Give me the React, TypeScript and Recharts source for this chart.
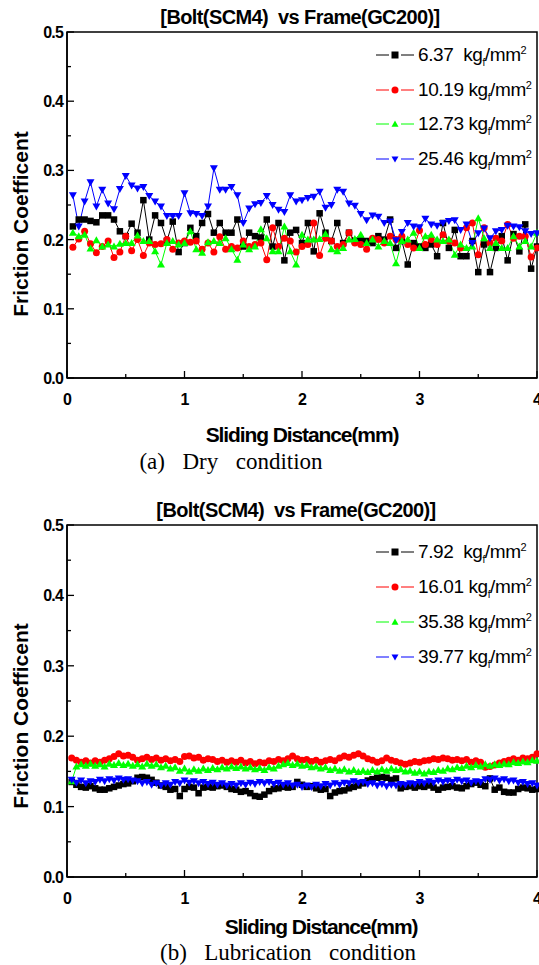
import React from 'react';
import { LineChart, Line, XAxis, YAxis, Legend, ReferenceArea } from 'recharts';

// sliding distance (mm) for each sample
const dryDistance = [
  0.05, 0.1, 0.15, 0.2, 0.25, 0.3, 0.35, 0.4, 0.45, 0.5, 0.55, 0.6, 0.65, 0.7, 0.75, 0.8, 0.85, 0.9, 0.95, 1.0,
  1.05, 1.1, 1.15, 1.2, 1.25, 1.3, 1.35, 1.4, 1.45, 1.5, 1.55, 1.6, 1.65, 1.7, 1.75, 1.8, 1.85, 1.9, 1.95, 2.0,
  2.05, 2.1, 2.15, 2.2, 2.25, 2.3, 2.35, 2.4, 2.45, 2.5, 2.55, 2.6, 2.65, 2.7, 2.75, 2.8, 2.85, 2.9, 2.95, 3.0,
  3.05, 3.1, 3.15, 3.2, 3.25, 3.3, 3.35, 3.4, 3.45, 3.5, 3.55, 3.6, 3.65, 3.7, 3.75, 3.8, 3.85, 3.9, 3.95, 4.0,
];

const dry637 = [
  0.219, 0.229, 0.229, 0.227, 0.225, 0.235, 0.235, 0.229, 0.212, 0.205,
  0.223, 0.21, 0.257, 0.2, 0.235, 0.224, 0.198, 0.226, 0.182, 0.195,
  0.217, 0.205, 0.224, 0.237, 0.21, 0.224, 0.21, 0.21, 0.229, 0.19,
  0.21, 0.205, 0.203, 0.229, 0.19, 0.224, 0.17, 0.21, 0.214, 0.195,
  0.224, 0.183, 0.238, 0.21, 0.198, 0.224, 0.195, 0.21, 0.198, 0.2,
  0.198, 0.195, 0.205, 0.2, 0.229, 0.188, 0.198, 0.164, 0.195, 0.19,
  0.188, 0.193, 0.176, 0.224, 0.188, 0.214, 0.176, 0.176, 0.198, 0.153,
  0.193, 0.153, 0.188, 0.205, 0.17, 0.208, 0.183, 0.222, 0.158, 0.19,
];

const dry1019 = [
  0.189, 0.201, 0.212, 0.194, 0.181, 0.19, 0.198, 0.174, 0.182, 0.205,
  0.184, 0.2, 0.177, 0.195, 0.193, 0.194, 0.2, 0.186, 0.195, 0.198,
  0.196, 0.198, 0.186, 0.195, 0.182, 0.204, 0.186, 0.19, 0.188, 0.198,
  0.19, 0.193, 0.195, 0.171, 0.217, 0.19, 0.202, 0.198, 0.182, 0.19,
  0.193, 0.224, 0.177, 0.202, 0.198, 0.19, 0.193, 0.21, 0.195, 0.193,
  0.186, 0.202, 0.2, 0.195, 0.205, 0.2, 0.205, 0.193, 0.188, 0.213,
  0.193, 0.2, 0.193, 0.207, 0.198, 0.195, 0.188, 0.217, 0.224, 0.178,
  0.217, 0.195, 0.202, 0.198, 0.222, 0.202, 0.205, 0.205, 0.175, 0.188,
];

const dry1273 = [
  0.21, 0.205, 0.207, 0.187, 0.199, 0.19, 0.193, 0.19, 0.194, 0.195,
  0.195, 0.206, 0.198, 0.198, 0.183, 0.164, 0.195, 0.198, 0.193, 0.195,
  0.212, 0.186, 0.181, 0.196, 0.198, 0.195, 0.202, 0.186, 0.171, 0.193,
  0.186, 0.19, 0.215, 0.202, 0.183, 0.183, 0.219, 0.183, 0.164, 0.207,
  0.2, 0.2, 0.201, 0.208, 0.186, 0.183, 0.188, 0.2, 0.201, 0.207,
  0.195, 0.2, 0.19, 0.198, 0.195, 0.166, 0.198, 0.2, 0.21, 0.188,
  0.205, 0.207, 0.2, 0.198, 0.2, 0.178, 0.193, 0.188, 0.19, 0.231,
  0.202, 0.188, 0.195, 0.188, 0.188, 0.205, 0.19, 0.198, 0.19, 0.21,
];

const dry2546 = [
  0.264, 0.219, 0.255, 0.283, 0.248, 0.272, 0.252, 0.244, 0.273, 0.292,
  0.278, 0.274, 0.276, 0.263, 0.255, 0.248, 0.234, 0.234, 0.234, 0.267,
  0.238, 0.237, 0.234, 0.248, 0.303, 0.272, 0.272, 0.276, 0.264, 0.224,
  0.245, 0.251, 0.253, 0.263, 0.25, 0.243, 0.24, 0.264, 0.255, 0.257,
  0.26, 0.262, 0.269, 0.246, 0.25, 0.272, 0.269, 0.252, 0.249, 0.237,
  0.228, 0.235, 0.233, 0.224, 0.226, 0.199, 0.211, 0.224, 0.219, 0.218,
  0.23, 0.222, 0.22, 0.224, 0.227, 0.228, 0.214, 0.222, 0.195, 0.209,
  0.216, 0.202, 0.212, 0.214, 0.22, 0.219, 0.218, 0.212, 0.208, 0.209,
];

const lubDistance = [
  0.04, 0.08, 0.12, 0.16, 0.2, 0.24, 0.28, 0.32, 0.36, 0.4, 0.44, 0.48, 0.52, 0.56, 0.6, 0.64, 0.68, 0.72, 0.76, 0.8,
  0.84, 0.88, 0.92, 0.96, 1.0, 1.04, 1.08, 1.12, 1.16, 1.2, 1.24, 1.28, 1.32, 1.36, 1.4, 1.44, 1.48, 1.52, 1.56, 1.6,
  1.64, 1.68, 1.72, 1.76, 1.8, 1.84, 1.88, 1.92, 1.96, 2.0, 2.04, 2.08, 2.12, 2.16, 2.2, 2.24, 2.28, 2.32, 2.36, 2.4,
  2.44, 2.48, 2.52, 2.56, 2.6, 2.64, 2.68, 2.72, 2.76, 2.8, 2.84, 2.88, 2.92, 2.96, 3.0, 3.04, 3.08, 3.12, 3.16, 3.2,
  3.24, 3.28, 3.32, 3.36, 3.4, 3.44, 3.48, 3.52, 3.56, 3.6, 3.64, 3.68, 3.72, 3.76, 3.8, 3.84, 3.88, 3.92, 3.96, 4.0,
];

const lub792 = [
  0.135, 0.131, 0.128, 0.127, 0.129, 0.126, 0.124, 0.124, 0.126, 0.128,
  0.13, 0.132, 0.133, 0.136, 0.141, 0.142, 0.141, 0.138, 0.134, 0.13,
  0.128, 0.124, 0.125, 0.115, 0.125, 0.128, 0.127, 0.119, 0.127, 0.128,
  0.127, 0.129, 0.13, 0.128, 0.125, 0.124, 0.121, 0.122, 0.119, 0.115,
  0.114, 0.117, 0.122, 0.125, 0.126, 0.128, 0.127, 0.128, 0.135, 0.131,
  0.128, 0.129, 0.126, 0.124, 0.125, 0.115, 0.12, 0.122, 0.123, 0.126,
  0.128, 0.13, 0.133, 0.137, 0.139, 0.141, 0.142, 0.141, 0.138, 0.14,
  0.126, 0.128, 0.129, 0.127, 0.129, 0.128, 0.13, 0.127, 0.124, 0.127,
  0.128, 0.129, 0.127, 0.126, 0.129, 0.132, 0.134, 0.131, 0.129, 0.14,
  0.124, 0.127, 0.121, 0.12, 0.12, 0.125, 0.127, 0.126, 0.124, 0.125,
];

const lub1601 = [
  0.169, 0.166, 0.163, 0.165, 0.162, 0.165, 0.163, 0.166, 0.168, 0.171,
  0.175, 0.172, 0.173, 0.17, 0.166, 0.168, 0.17, 0.167, 0.169, 0.166,
  0.168, 0.165, 0.167, 0.164, 0.171, 0.172, 0.169, 0.17, 0.166, 0.168,
  0.167, 0.164, 0.166, 0.163, 0.165, 0.163, 0.166, 0.162, 0.164, 0.161,
  0.163, 0.162, 0.165, 0.164, 0.167, 0.165, 0.168, 0.172, 0.168, 0.166,
  0.167, 0.164, 0.166, 0.163, 0.165, 0.167, 0.165, 0.169, 0.172, 0.17,
  0.173, 0.175, 0.172, 0.168, 0.166, 0.163, 0.165, 0.169, 0.166, 0.164,
  0.162, 0.16, 0.162, 0.164, 0.163, 0.165, 0.166, 0.168, 0.167, 0.169,
  0.168, 0.166, 0.167, 0.165, 0.167, 0.163, 0.165, 0.163, 0.156, 0.157,
  0.159, 0.162, 0.164, 0.166, 0.168, 0.166, 0.169, 0.168, 0.17, 0.175,
];

const lub3538 = [
  0.136, 0.157, 0.16, 0.158, 0.161, 0.158, 0.16, 0.157, 0.161, 0.159,
  0.162, 0.159, 0.161, 0.158, 0.16, 0.157, 0.161, 0.158, 0.16, 0.156,
  0.158, 0.154, 0.156, 0.151, 0.154, 0.15, 0.153, 0.151, 0.154, 0.152,
  0.155, 0.153, 0.156, 0.154, 0.157, 0.155, 0.157, 0.154, 0.156, 0.153,
  0.155, 0.152, 0.156, 0.154, 0.158, 0.16, 0.162, 0.159, 0.161, 0.158,
  0.159, 0.156, 0.157, 0.154, 0.156, 0.152, 0.154, 0.151, 0.153, 0.15,
  0.152, 0.149, 0.151, 0.149, 0.152, 0.15, 0.153, 0.151, 0.154, 0.152,
  0.153, 0.15, 0.151, 0.148, 0.15, 0.147, 0.15, 0.149, 0.152, 0.151,
  0.154, 0.153, 0.156, 0.155, 0.158, 0.156, 0.159, 0.157, 0.16, 0.158,
  0.16, 0.159, 0.161, 0.16, 0.163, 0.162, 0.164, 0.163, 0.166, 0.165,
];

const lub3977 = [
  0.138, 0.134, 0.137, 0.133, 0.136, 0.135, 0.138, 0.136, 0.139, 0.137,
  0.14, 0.138, 0.139, 0.137, 0.136, 0.133, 0.135, 0.131, 0.133, 0.13,
  0.133, 0.131, 0.135, 0.133, 0.137, 0.134, 0.136, 0.133, 0.135, 0.132,
  0.134, 0.131, 0.133, 0.13, 0.132, 0.13, 0.133, 0.131, 0.134, 0.132,
  0.135, 0.133, 0.135, 0.132, 0.134, 0.131, 0.133, 0.13, 0.131, 0.128,
  0.13, 0.128, 0.131, 0.129, 0.132, 0.13, 0.133, 0.131, 0.134, 0.133,
  0.136, 0.134, 0.135, 0.132, 0.133, 0.13, 0.132, 0.129, 0.131, 0.13,
  0.132, 0.131, 0.133, 0.132, 0.135, 0.133, 0.136, 0.134, 0.137, 0.135,
  0.137, 0.135, 0.138, 0.136, 0.137, 0.134, 0.136, 0.135, 0.139, 0.138,
  0.14, 0.137, 0.139, 0.136, 0.137, 0.134, 0.135, 0.132, 0.133, 0.13,
];

const dryLoads = ['6.37', '10.19', '12.73', '25.46'];
const lubLoads = ['7.92', '16.01', '35.38', '39.77'];

const xTicks = [0, 0.5, 1, 1.5, 2, 2.5, 3, 3.5, 4];
const yTicks = [0, 0.05, 0.1, 0.15, 0.2, 0.25, 0.3, 0.35, 0.4, 0.45, 0.5];

const COLORS = ['#000000', '#ff0000', '#00ff00', '#0000ff'];
const SHAPES = ['square', 'circle', 'triangle', 'triangleDown'];
const DOT_SIZES = [6.5, 7, 8, 8];

const SANS = '"Liberation Sans", Arial, sans-serif';
const SERIF = '"Liberation Serif", "Times New Roman", serif';

const Marker = ({ shape, cx, cy, color, size }: any) => {
  const h = size / 2;
  if (shape === 'square') return <rect x={cx - h} y={cy - h} width={size} height={size} fill={color} />;
  if (shape === 'circle') return <circle cx={cx} cy={cy} r={h} fill={color} />;
  if (shape === 'triangle')
    return <polygon points={`${cx},${cy - h} ${cx + h},${cy + h * 0.75} ${cx - h},${cy + h * 0.75}`} fill={color} />;
  return <polygon points={`${cx},${cy + h} ${cx + h},${cy - h * 0.75} ${cx - h},${cy - h * 0.75}`} fill={color} />;
};

const makeDot = (i: number) => (p: any) => (
  <Marker key={`d-${i}-${p.index}`} shape={SHAPES[i]} cx={p.cx} cy={p.cy} color={COLORS[i]} size={DOT_SIZES[i]} />
);

const tickFont: React.CSSProperties = { fontFamily: SANS, fontWeight: 'bold', fontSize: 16, letterSpacing: -0.8 };

// inward ticks, label only on the major ones
const XTick = (props: any) => {
  const { x, y, payload } = props;
  const v = payload.value;
  const major = Number.isInteger(v);
  return (
    <g>
      <line x1={x} x2={x} y1={y} y2={y - (major ? 7 : 4)} stroke="#000" strokeWidth={1.3} />
      {major && (
        <text x={x} y={y + 27} textAnchor="middle" style={tickFont}>
          {v}
        </text>
      )}
    </g>
  );
};

const YTick = (props: any) => {
  const { x, y, payload } = props;
  const v = payload.value;
  const major = Math.round(v * 100) % 10 === 0;
  return (
    <g>
      <line x1={x} x2={x + (major ? 7 : 4)} y1={y} y2={y} stroke="#000" strokeWidth={1.3} />
      {major && (
        <text x={x - 4} y={y + 6} textAnchor="end" style={tickFont}>
          {v.toFixed(1)}
        </text>
      )}
    </g>
  );
};

const makeLegend = (loads: string[], rowH: number) => () => (
  <div>
    {loads.map((load, i) => (
      <div key={load} style={{ display: 'flex', alignItems: 'center', height: rowH }}>
        <svg width={40} height={14}>
          <line x1={0} x2={13} y1={7} y2={7} stroke={COLORS[i]} strokeWidth={1} />
          <line x1={25} x2={38} y1={7} y2={7} stroke={COLORS[i]} strokeWidth={1} />
          <Marker shape={SHAPES[i]} cx={19} cy={7} color={COLORS[i]} size={7} />
        </svg>
        <span style={{ marginLeft: 2, fontFamily: SANS, fontSize: 19, letterSpacing: -0.4, whiteSpace: 'pre', color: '#000' }}>
          {load}
          {load.length < 5 ? '  ' : ' '}kg
          <sub style={{ fontSize: 10, lineHeight: 0 }}>f</sub>/mm
          <sup style={{ fontSize: 11, lineHeight: 0 }}>2</sup>
        </span>
      </div>
    ))}
  </div>
);

const Text = ({ x, y, rotate, style, children }: any) => (
  <div
    style={{
      position: 'absolute',
      left: x,
      top: y,
      transform: `translate(-50%, -50%)${rotate ? ' rotate(-90deg)' : ''}`,
      whiteSpace: 'pre',
      lineHeight: 1,
      color: '#000',
      ...style,
    }}
  >
    {children}
  </div>
);

const titleStyle = { fontFamily: SANS, fontWeight: 'bold', fontSize: 20, letterSpacing: -0.6 };
const axisTitleStyle = { fontFamily: SANS, fontWeight: 'bold', fontSize: 21, letterSpacing: -1.1 };
const yTitleStyle = { fontFamily: SANS, fontWeight: 'bold', fontSize: 21 };
const captionStyle = { fontFamily: SERIF, fontSize: 23, wordSpacing: 3 };

const Panel = ({ distance, series, loads, height, legendTop, rowH }: any) => {
  const data = distance.map((d: number, i: number) => ({
    d,
    s0: series[0][i],
    s1: series[1][i],
    s2: series[2][i],
    s3: series[3][i],
  }));
  return (
    <LineChart width={539} height={height} data={data} margin={{ top: 32, right: 2, bottom: 0, left: 0 }}>
      <XAxis
        type="number"
        dataKey="d"
        domain={[0, 4]}
        ticks={xTicks}
        interval={0}
        height={40}
        tickSize={0}
        tickMargin={0}
        tickLine={false}
        tick={<XTick />}
        axisLine={{ stroke: '#000', strokeWidth: 1.5 }}
      />
      <YAxis
        type="number"
        domain={[0, 0.5]}
        ticks={yTicks}
        interval={0}
        width={67}
        tickSize={0}
        tickMargin={0}
        tickLine={false}
        tick={<YTick />}
        axisLine={{ stroke: '#000', strokeWidth: 1.5 }}
      />
      {[0, 1, 2, 3].map((i) => (
        <Line
          key={i}
          dataKey={`s${i}`}
          name={loads[i]}
          stroke={COLORS[i]}
          strokeWidth={1}
          dot={makeDot(i)}
          activeDot={false}
          isAnimationActive={false}
        />
      ))}
      <ReferenceArea x1={0} x2={4} y1={0} y2={0.5} fill="none" stroke="#000" strokeWidth={1.5} />
      <Legend
        layout="vertical"
        align="center"
        verticalAlign="middle"
        content={makeLegend(loads, rowH)}
        wrapperStyle={{ top: legendTop, left: 376, width: 'auto' }}
      />
    </LineChart>
  );
};

const App = () => (
  <div style={{ position: 'absolute', left: 0, top: 0, width: 539, height: 965, background: '#fff', overflow: 'hidden' }}>
    <div style={{ position: 'absolute', left: 0, top: 0 }}>
      <Panel distance={dryDistance} series={[dry637, dry1019, dry1273, dry2546]} loads={dryLoads} height={418} legendTop={38} rowH={34.6} />
    </div>
    <div style={{ position: 'absolute', left: 0, top: 493 }}>
      <Panel distance={lubDistance} series={[lub792, lub1601, lub3538, lub3977]} loads={lubLoads} height={424} legendTop={41} rowH={35} />
    </div>

    <Text x={300} y={17} style={titleStyle}>[Bolt(SCM4)  vs Frame(GC200)]</Text>
    <Text x={20} y={224} rotate style={yTitleStyle}>Friction Coefficent</Text>
    <Text x={302} y={434} style={axisTitleStyle}>Sliding Distance(mm)</Text>
    <Text x={231} y={461} style={captionStyle}>(a)  Dry  condition</Text>

    <Text x={296} y={510} style={titleStyle}>[Bolt(SCM4)  vs Frame(GC200)]</Text>
    <Text x={20} y={716} rotate style={yTitleStyle}>Friction Coefficent</Text>
    <Text x={321} y={926} style={axisTitleStyle}>Sliding Distance(mm)</Text>
    <Text x={288} y={952} style={captionStyle}>(b)  Lubrication  condition</Text>
  </div>
);

export default App;
